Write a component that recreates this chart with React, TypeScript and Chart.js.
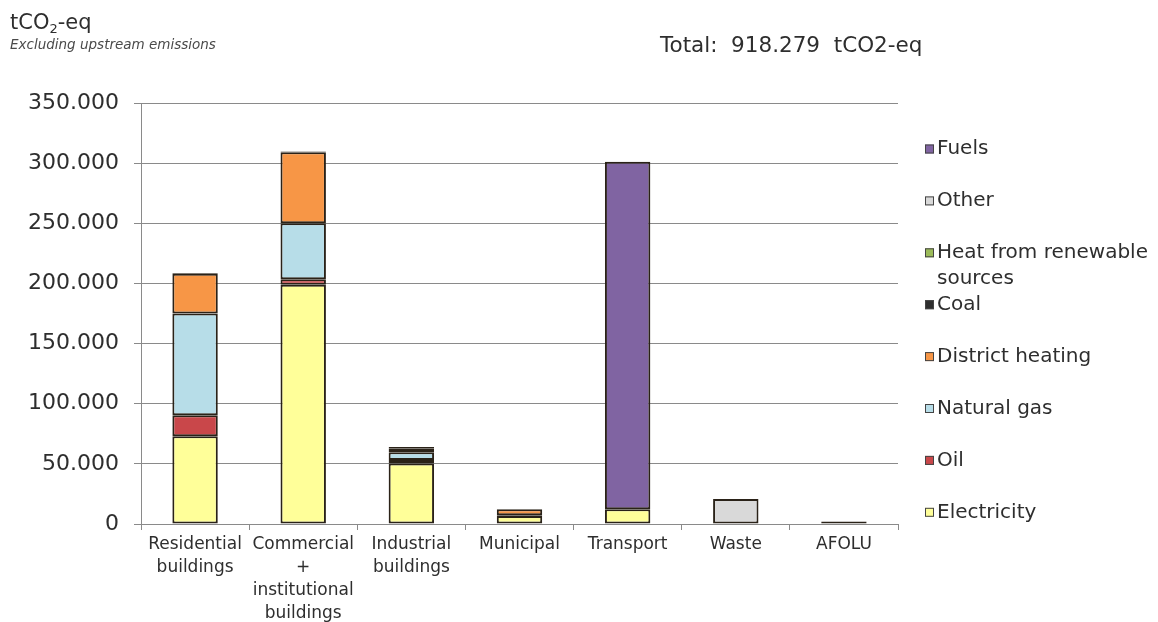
import React, { useEffect, useRef } from "react";
import { Chart, registerables } from "chart.js";

Chart.register(...registerables);

const categories: (string | string[])[] = [
  ["Residential", "buildings"],
  ["Commercial", "+", "institutional", "buildings"],
  ["Industrial", "buildings"],
  "Municipal",
  "Transport",
  "Waste",
  "AFOLU",
];

const electricity = [73000, 199000, 50300, 6600, 12200, null, null];
const oil = [17500, 4500, 3000, 600, null, null, null];
const naturalGas = [84500, 46500, 6300, null, null, null, null];
const districtHeating = [33000, 59000, 3000, 5000, null, null, null];
const coal = [600, 600, 1500, null, null, null, null];
const heatRenewable = [null, null, null, null, null, null, null];
const other = [null, null, null, null, null, 20700, 2000];
const fuels = [null, null, null, null, 289000, null, null];

const yTicksMax = 350000;
const yTickStep = 50000;

const titleMain = "tCO";
const titleSub = "2";
const titleEnd = "-eq";
const subtitle = "Excluding upstream emissions";
const totalLabel = "Total:  918.279  tCO2-eq";

const FONT = "'DejaVu Sans', 'Liberation Sans', Arial, sans-serif";
const TEXT = "#2e2e2e";
const GRID = "#8a8a8a";
const EDGE = "#2a2218";

const seriesDefs = [
  { label: "Electricity", data: electricity, color: "#FFFF99" },
  { label: "Oil", data: oil, color: "#C9474A" },
  { label: "Natural gas", data: naturalGas, color: "#B7DDE8" },
  { label: "District heating", data: districtHeating, color: "#F79646" },
  { label: "Coal", data: coal, color: "#2E2E2E" },
  { label: "Heat from renewable sources", data: heatRenewable, color: "#9BBB59" },
  { label: "Other", data: other, color: "#D9D9D9" },
  { label: "Fuels", data: fuels, color: "#8064A2" },
];

const fmt = (v: number) =>
  String(Math.round(v)).replace(/\B(?=(\d{3})+(?!\d))/g, ".");

const overlayPlugin = {
  id: "overlay",
  afterDraw(chart: any) {
    const ctx: CanvasRenderingContext2D = chart.ctx;
    ctx.save();
    // Title
    ctx.fillStyle = TEXT;
    ctx.textBaseline = "alphabetic";
    ctx.textAlign = "left";
    ctx.font = `21px ${FONT}`;
    let x = 10;
    const yBase = 29;
    ctx.fillText(titleMain, x, yBase);
    x += ctx.measureText(titleMain).width;
    ctx.font = `13px ${FONT}`;
    ctx.fillText(titleSub, x, yBase + 4);
    x += ctx.measureText(titleSub).width;
    ctx.font = `21px ${FONT}`;
    ctx.fillText(titleEnd, x, yBase);
    // Subtitle
    ctx.fillStyle = "#4a4a4a";
    ctx.font = `italic 13.5px ${FONT}`;
    ctx.fillText(subtitle, 10, 49);
    // Total
    ctx.fillStyle = TEXT;
    ctx.font = `21.5px ${FONT}`;
    ctx.textBaseline = "middle";
    ctx.fillText(totalLabel, 660, 46);

    // Legend (reversed order)
    const items = [...chart.data.datasets].reverse();
    const y0 = 149;
    const step = 51.9;
    const sqX = 925;
    const txtX = 937;
    const maxW = 1158 - txtX - 2;
    ctx.font = `20px ${FONT}`;
    items.forEach((ds: any, i: number) => {
      const cy = y0 + i * step;
      ctx.fillStyle = ds.backgroundColor;
      ctx.fillRect(sqX, cy - 4.5, 9, 9);
      ctx.strokeStyle = "#444";
      ctx.lineWidth = 1;
      ctx.strokeRect(sqX + 0.5, cy - 4, 8, 8);
      const words = String(ds.label).split(" ");
      const lines: string[] = [];
      let cur = "";
      words.forEach((w) => {
        const test = cur ? cur + " " + w : w;
        if (ctx.measureText(test).width > maxW && cur) {
          lines.push(cur);
          cur = w;
        } else cur = test;
      });
      if (cur) lines.push(cur);
      ctx.fillStyle = TEXT;
      ctx.textBaseline = "middle";
      lines.forEach((ln, j) => ctx.fillText(ln, txtX, cy + j * 26));
    });
    ctx.restore();
  },
};

export default function App() {
  const ref = useRef<HTMLCanvasElement | null>(null);
  useEffect(() => {
    if (!ref.current) return;
    const chart = new Chart(ref.current, {
      type: "bar",
      data: {
        labels: categories,
        datasets: seriesDefs.map((s) => ({
          label: s.label,
          data: s.data,
          backgroundColor: s.color,
          borderColor: EDGE,
          borderWidth: 2,
          borderSkipped: false,
          barPercentage: 0.42,
          categoryPercentage: 1,
        })),
      },
      options: {
        animation: false,
        responsive: false,
        maintainAspectRatio: false,
        layout: { padding: { top: 103, right: 260, bottom: 0, left: 0 } },
        plugins: {
          legend: { display: false },
          tooltip: { enabled: false },
          title: { display: false },
        },
        scales: {
          x: {
            stacked: true,
            offset: true,
            afterFit: (scale: any) => {
              scale.height = 98;
            },
            grid: {
              offset: true,
              drawOnChartArea: false,
              drawTicks: true,
              tickLength: 6,
              color: GRID,
            },
            border: { color: GRID, width: 1 },
            ticks: {
              color: TEXT,
              font: { family: FONT, size: 17, lineHeight: 1.36 },
              padding: 3,
              maxRotation: 0,
              autoSkip: false,
            },
          },
          y: {
            stacked: true,
            min: 0,
            max: yTicksMax,
            afterFit: (scale: any) => {
              scale.width = 141;
            },
            grid: {
              color: GRID,
              lineWidth: 1,
              drawTicks: true,
              tickLength: 7,
            },
            border: { color: GRID, width: 1 },
            ticks: {
              stepSize: yTickStep,
              color: TEXT,
              font: { family: FONT, size: 22 },
              padding: 15,
              callback: (v: any) => fmt(Number(v)),
            },
          },
        },
      },
      plugins: [overlayPlugin],
    });
    return () => chart.destroy();
  }, []);
  return (
    <div
      style={{
        position: "fixed",
        left: 0,
        top: 0,
        width: 1158,
        height: 622,
        background: "#fff",
      }}
    >
      <canvas ref={ref} width={1158} height={622} />
    </div>
  );
}
